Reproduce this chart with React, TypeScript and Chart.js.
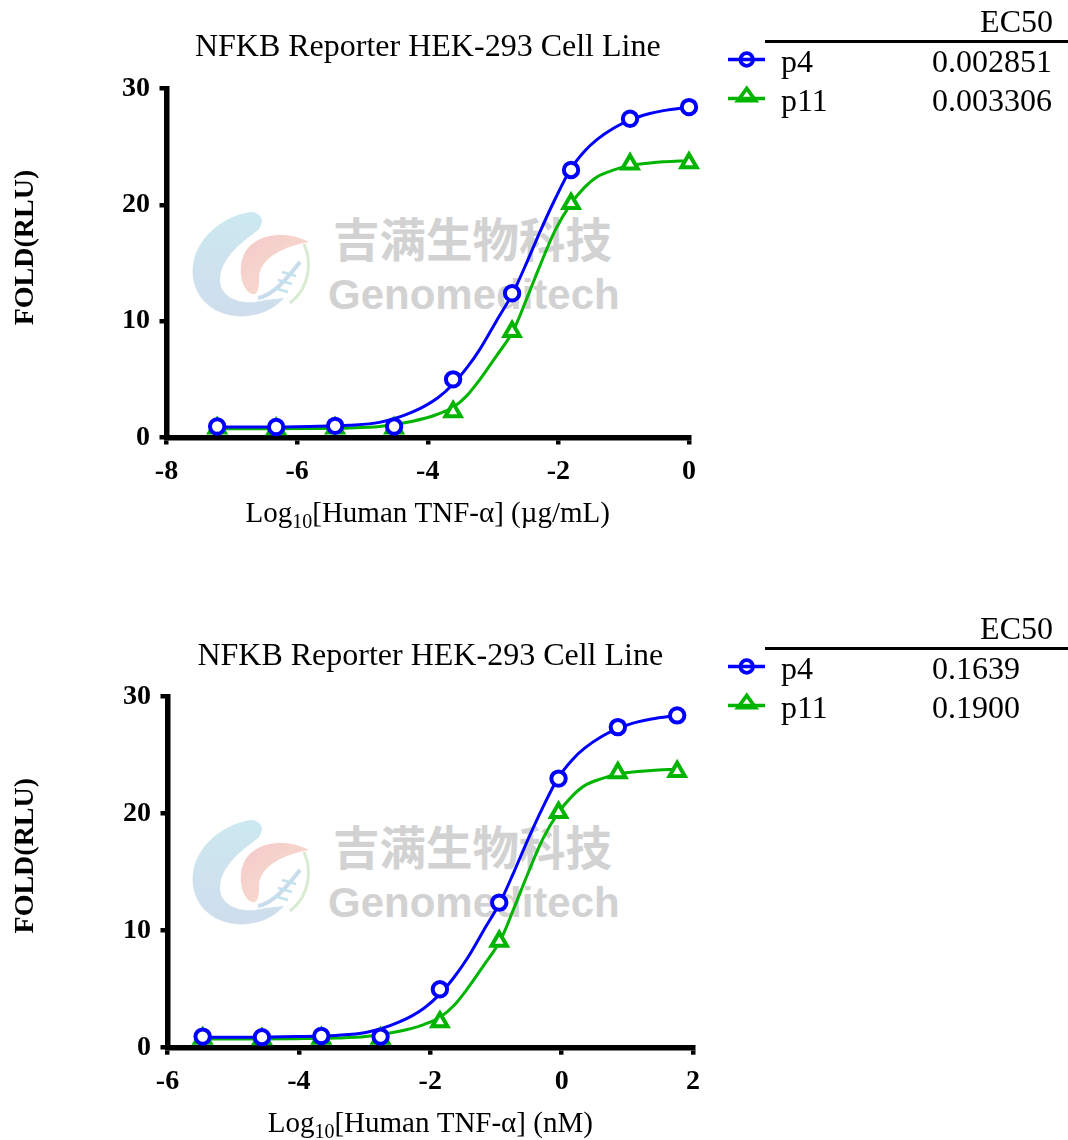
import React, { useEffect, useRef } from 'react';
import { Chart, registerables } from 'chart.js';

Chart.register(...registerables);

// ---------- data ----------
const CHART_TITLE = 'NFKB Reporter HEK-293 Cell Line';
const Y_TITLE = 'FOLD(RLU)';
const X_TITLE_TOP = ['Log', '10', '[Human TNF-α] (µg/mL)'];
const X_TITLE_BOTTOM = ['Log', '10', '[Human TNF-α] (nM)'];
const SERIES_NAMES = ['p4', 'p11'];
const EC50_HEADER = 'EC50';
const EC50_TOP = ['0.002851', '0.003306'];
const EC50_BOTTOM = ['0.1639', '0.1900'];

// log10 dose, µg/mL (top) and nM (bottom)
const doseUgPerMl = [-7.224, -6.321, -5.418, -4.515, -3.612, -2.709, -1.806, -0.903, 0];
const doseNm = [-5.465, -4.562, -3.659, -2.756, -1.853, -0.95, -0.047, 0.856, 1.759];
const p4Fold = [0.95, 0.9, 1.0, 0.95, 5.0, 12.4, 23.0, 27.4, 28.4];
const p11Fold = [0.8, 0.75, 0.8, 0.8, 2.2, 9.1, 20.1, 23.5, 23.6];

// fitted curves
const fitXUgPerMl = [-7.224, -6.5, -5.8, -5.2, -4.74, -4.23, -3.85, -3.61, -3.4, -3.2, -2.95, -2.69, -2.48, -2.28, -2.05, -1.82, -1.6, -1.41, -1.15, -0.9, -0.6, -0.39, 0];
const fitXNm = [-5.464, -4.74, -4.04, -3.44, -2.98, -2.47, -2.09, -1.85, -1.64, -1.44, -1.19, -0.93, -0.72, -0.52, -0.29, -0.06, 0.16, 0.35, 0.61, 0.86, 1.16, 1.37, 1.76];
const p4Fit = [0.9, 0.9, 0.95, 1.05, 1.3, 2.2, 3.4, 4.6, 6.0, 7.6, 10.0, 12.5, 15.1, 17.7, 20.5, 23.0, 24.6, 25.6, 26.6, 27.3, 27.85, 28.1, 28.4];
const p11Fit = [0.75, 0.75, 0.77, 0.82, 0.95, 1.4, 2.0, 2.6, 3.6, 5.0, 7.0, 9.2, 12.0, 14.8, 17.8, 20.0, 21.5, 22.4, 23.0, 23.4, 23.6, 23.7, 23.8];

const xTicksTop = [-8, -6, -4, -2, 0];
const xTicksBottom = [-6, -4, -2, 0, 2];
const yTicks = [0, 10, 20, 30];

// ---------- styles / layout ----------
const BLUE = '#0000ff';
const GREEN = '#00b400';
const SERIF = '"Liberation Serif", "Times New Roman", serif';
const CANVAS_W = 720;
const CANVAS_H = 560;

type PanelLayout = {
  canvasTop: number;
  left: number;
  right: number;
  top: number;
  bottom: number;
};

const TOP_LAYOUT: PanelLayout = { canvasTop: 0, left: 166.5, right: 689, top: 88.5, bottom: 437.5 };
const BOTTOM_LAYOUT: PanelLayout = { canvasTop: 609, left: 167.5, right: 693, top: 87.7, bottom: 438.7 };

const axisTitlesPlugin = {
  id: 'axisTitles',
  afterDraw(chart: any, _args: any, opts: any) {
    const { ctx, chartArea } = chart;
    ctx.save();
    ctx.fillStyle = '#000';
    // y title
    ctx.save();
    ctx.translate(33, chartArea.top + 159);
    ctx.rotate(-Math.PI / 2);
    ctx.font = `bold 28px ${SERIF}`;
    ctx.textAlign = 'center';
    ctx.textBaseline = 'alphabetic';
    ctx.fillText(opts.yTitle, 0, 0);
    ctx.restore();
    // x title with subscript
    const [a, sub, b] = opts.xTitle as string[];
    const mainFont = `29px ${SERIF}`;
    const subFont = `20px ${SERIF}`;
    ctx.font = mainFont;
    const wa = ctx.measureText(a).width;
    const wb = ctx.measureText(b).width;
    ctx.font = subFont;
    const ws = ctx.measureText(sub).width;
    const total = wa + ws + wb;
    const cx = (chartArea.left + chartArea.right) / 2;
    const base = chartArea.bottom + 84;
    let x = cx - total / 2;
    ctx.textAlign = 'left';
    ctx.textBaseline = 'alphabetic';
    ctx.font = mainFont;
    ctx.fillText(a, x, base);
    x += wa;
    ctx.font = subFont;
    ctx.fillText(sub, x, base + 6);
    x += ws;
    ctx.font = mainFont;
    ctx.fillText(b, x, base);
    ctx.restore();
  },
};

function Panel({ layout, dose, fitX, xTicks, xTitle }: { layout: PanelLayout; dose: number[]; fitX: number[]; xTicks: number[]; xTitle: string[] }) {
  const ref = useRef<HTMLCanvasElement | null>(null);
  useEffect(() => {
    if (!ref.current) return;
    const pts = (xs: number[], ys: number[]) => xs.map((x, i) => ({ x, y: ys[i] }));
    const titleFont = 32;
    const titleLH = 1.2;
    const titlePadTop = 28.3;
    const titlePadBottom = layout.top - titlePadTop - titleFont * titleLH;
    const tickFont = { family: SERIF, size: 28, weight: 'bold' as const };
    const chart = new Chart(ref.current, {
      type: 'scatter',
      data: {
        datasets: [
          {
            label: SERIES_NAMES[0],
            data: pts(dose, p4Fold),
            showLine: false,
            pointStyle: 'circle',
            pointRadius: 7.2,
            borderWidth: 4,
            borderColor: BLUE,
            backgroundColor: '#ffffff',
            order: 0,
            clip: false,
          },
          {
            label: SERIES_NAMES[1],
            data: pts(dose, p11Fold),
            showLine: false,
            pointStyle: 'triangle',
            pointRadius: 8.8,
            borderWidth: 4,
            borderColor: GREEN,
            backgroundColor: '#ffffff',
            order: 1,
            clip: false,
          },
          {
            label: SERIES_NAMES[0] + ' fit',
            data: pts(fitX, p4Fit),
            showLine: true,
            pointRadius: 0,
            borderWidth: 3,
            borderColor: BLUE,
            cubicInterpolationMode: 'monotone',
            order: 2,
            clip: false,
          },
          {
            label: SERIES_NAMES[1] + ' fit',
            data: pts(fitX, p11Fit),
            showLine: true,
            pointRadius: 0,
            borderWidth: 3,
            borderColor: GREEN,
            cubicInterpolationMode: 'monotone',
            order: 3,
            clip: false,
          },
        ] as any,
      },
      options: {
        animation: false,
        responsive: false,
        maintainAspectRatio: false,
        devicePixelRatio: 1,
        events: [],
        layout: { padding: { left: 0, top: 0, bottom: 0, right: CANVAS_W - layout.right } },
        plugins: {
          legend: { display: false },
          tooltip: { enabled: false },
          title: {
            display: true,
            text: CHART_TITLE,
            fullSize: false,
            color: '#000',
            font: { family: SERIF, size: titleFont, weight: 'normal', lineHeight: titleLH },
            padding: { top: titlePadTop, bottom: titlePadBottom },
          },
          axisTitles: { yTitle: Y_TITLE, xTitle },
        } as any,
        scales: {
          x: {
            type: 'linear',
            min: xTicks[0],
            max: xTicks[xTicks.length - 1],
            afterBuildTicks: (s: any) => {
              s.ticks = xTicks.map((v) => ({ value: v }));
            },
            afterFit: (s: any) => {
              s.height = CANVAS_H - layout.bottom;
            },
            ticks: { font: tickFont, color: '#000', padding: 10, autoSkip: false, maxRotation: 0 },
            grid: { drawOnChartArea: false, drawTicks: true, tickLength: 7, tickWidth: 4.5, tickColor: '#000', color: '#000', lineWidth: 4.5 },
            border: { display: true, width: 5.5, color: '#000' },
          },
          y: {
            type: 'linear',
            min: yTicks[0],
            max: yTicks[yTicks.length - 1],
            afterBuildTicks: (s: any) => {
              s.ticks = yTicks.map((v) => ({ value: v }));
            },
            afterFit: (s: any) => {
              s.width = layout.left;
            },
            ticks: { font: tickFont, color: '#000', padding: 9.5, autoSkip: false },
            grid: { drawOnChartArea: false, drawTicks: true, tickLength: 7, tickWidth: 4.5, tickColor: '#000', color: '#000', lineWidth: 4.5 },
            border: { display: true, width: 5.5, color: '#000' },
          },
        } as any,
      },
      plugins: [axisTitlesPlugin],
    });
    return () => chart.destroy();
  }, []);
  return (
    <canvas
      ref={ref}
      width={CANVAS_W}
      height={CANVAS_H}
      style={{ position: 'absolute', left: 0, top: layout.canvasTop, width: CANVAS_W, height: CANVAS_H }}
    />
  );
}

function Legend({ top, values }: { top: number; values: string[] }) {
  const text: React.CSSProperties = {
    position: 'absolute',
    fontFamily: SERIF,
    fontSize: 32,
    lineHeight: '32px',
    color: '#000',
    whiteSpace: 'nowrap',
  };
  return (
    <div style={{ position: 'absolute', left: 0, top, width: 1068, height: 130 }}>
      <div style={{ ...text, top: 5, right: 15 }}>{EC50_HEADER}</div>
      <div style={{ position: 'absolute', left: 765, right: 0, top: 40, height: 3.3, background: '#000' }} />
      <svg style={{ position: 'absolute', left: 720, top: 40, overflow: 'visible' }} width={60} height={80}>
        <line x1={8} x2={45} y1={19.5} y2={19.5} stroke={BLUE} strokeWidth={3.5} />
        <circle cx={26.7} cy={19.5} r={6.3} fill="none" stroke={BLUE} strokeWidth={3.8} />
        <line x1={8} x2={45} y1={58.5} y2={58.5} stroke={GREEN} strokeWidth={3.5} />
        <polygon points="26.7,48.5 18,60.5 35.4,60.5" fill="none" stroke={GREEN} strokeWidth={3.8} strokeLinejoin="miter" />
      </svg>
      <div style={{ ...text, top: 45, left: 781 }}>{SERIES_NAMES[0]}</div>
      <div style={{ ...text, top: 83.5, left: 781 }}>{SERIES_NAMES[1]}</div>
      <div style={{ ...text, top: 45, left: 932 }}>{values[0]}</div>
      <div style={{ ...text, top: 83.5, left: 932 }}>{values[1]}</div>
    </div>
  );
}

function Watermark({ dy }: { dy: number }) {
  return (
    <>
      <svg style={{ position: 'absolute', left: 0, top: dy }} width={340} height={340}>
        <defs>
          <linearGradient id={`wmBlue${dy}`} x1="0" y1="0" x2="0" y2="1">
            <stop offset="0" stopColor="#c6e6ef" />
            <stop offset="1" stopColor="#cad9ea" />
          </linearGradient>
          <linearGradient id={`wmPink${dy}`} x1="0" y1="0" x2="1" y2="1">
            <stop offset="0" stopColor="#f3c4c4" />
            <stop offset="1" stopColor="#f8dccb" />
          </linearGradient>
        </defs>
        <path
          d="M250 212 C262 212 266 222 257 231 C236 246 219 262 220 282 C222 300 245 306 265 300 L284 298 C272 312 252 318 235 316 C205 312 190 290 193 265 C196 240 220 217 250 212 Z"
          fill={`url(#wmBlue${dy})`}
          opacity={0.9}
        />
        <path
          d="M309 242 C290 232 262 232 248 248 C236 262 240 290 252 294 C259 296 259 285 259 278 C259 262 276 248 309 242 Z"
          fill={`url(#wmPink${dy})`}
          opacity={0.9}
        />
        <path d="M304 244 C312 262 310 288 290 303" fill="none" stroke="#d9ebd2" strokeWidth={3} />
        <path d="M258 298 C272 296 286 280 300 262" fill="none" stroke="#c9dcec" strokeWidth={4} />
        <line x1={282} y1={272} x2={296} y2={276} stroke="#c4e2ee" strokeWidth={2.5} />
        <line x1={278} y1={280} x2={292} y2={284} stroke="#c4e2ee" strokeWidth={2.5} />
        <line x1={274} y1={288} x2={288} y2={292} stroke="#c4e2ee" strokeWidth={2.5} />
      </svg>
      <div
        style={{
          position: 'absolute',
          left: 333,
          top: dy + 209,
          fontFamily: '"Noto Sans CJK SC", sans-serif',
          fontWeight: 700,
          fontSize: 46.5,
          lineHeight: '56px',
          color: '#d2d2d2',
          whiteSpace: 'nowrap',
        }}
      >
        吉满生物科技
      </div>
      <div
        style={{
          position: 'absolute',
          left: 328,
          top: dy + 271,
          fontFamily: '"Liberation Sans", Arial, sans-serif',
          fontWeight: 700,
          fontSize: 42,
          lineHeight: '48px',
          color: '#d2d2d2',
          whiteSpace: 'nowrap',
        }}
      >
        Genomeditech
      </div>
    </>
  );
}

export default function App() {
  return (
    <div
      style={{
        position: 'fixed',
        left: 0,
        top: 0,
        width: 1068,
        height: 1140,
        overflow: 'hidden',
        background: '#ffffff',
      }}
    >
      <Watermark dy={0} />
      <Watermark dy={608} />
      <Panel layout={TOP_LAYOUT} dose={doseUgPerMl} fitX={fitXUgPerMl} xTicks={xTicksTop} xTitle={X_TITLE_TOP} />
      <Panel layout={BOTTOM_LAYOUT} dose={doseNm} fitX={fitXNm} xTicks={xTicksBottom} xTitle={X_TITLE_BOTTOM} />
      <Legend top={0} values={EC50_TOP} />
      <Legend top={607} values={EC50_BOTTOM} />
    </div>
  );
}
